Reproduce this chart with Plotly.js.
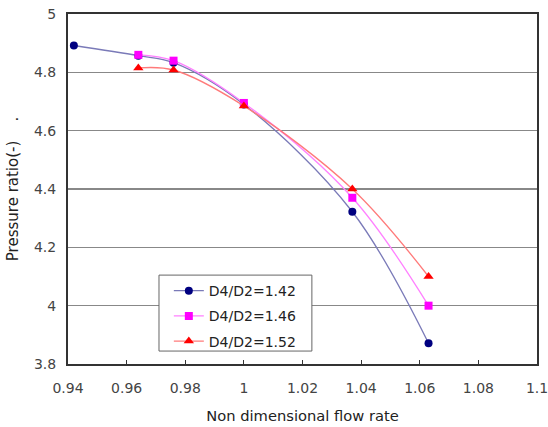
<!DOCTYPE html>
<html>
<head>
<meta charset="utf-8">
<script src="https://cdn.plot.ly/plotly-3.0.1.min.js"></script>
<style>html,body{margin:0;padding:0;background:#fff;}#chart{width:548px;height:427px;}</style>
</head>
<body>
<div id="chart"></div>
<script>
var flow142 = [0.942, 0.964, 0.976, 1.000, 1.037, 1.063];
var ratio142 = [4.892, 4.857, 4.833, 4.690, 4.322, 3.871];
var flow146 = [0.964, 0.976, 1.000, 1.037, 1.063];
var ratio146 = [4.860, 4.840, 4.695, 4.370, 4.000];
var flow152 = [0.964, 0.976, 1.000, 1.037, 1.063];
var ratio152 = [4.815, 4.808, 4.685, 4.400, 4.100];
var seriesNames = ['D4/D2=1.42', 'D4/D2=1.46', 'D4/D2=1.52'];
var xTicks = [0.94, 0.96, 0.98, 1.0, 1.02, 1.04, 1.06, 1.08, 1.1];
var xTickText = ['0.94', '0.96', '0.98', '1', '1.02', '1.04', '1.06', '1.08', '1.1'];
var yTicks = [3.8, 4.0, 4.2, 4.4, 4.6, 4.8, 5.0];
var yTickText = ['3.8', '4', '4.2', '4.4', '4.6', '4.8', '5'];

var font = 'DejaVu Sans, Arial, sans-serif';
var traces = [
  {x: flow142, y: ratio142, name: seriesNames[0], mode: 'lines+markers', legendgroup: 'a',
   line: {shape: 'spline', smoothing: 1, color: '#7a7ab8', width: 1.3},
   marker: {symbol: 'circle', size: 8, color: '#000080'}},
  {x: flow146, y: ratio146, name: seriesNames[1], mode: 'lines+markers', legendgroup: 'b',
   line: {shape: 'spline', smoothing: 1, color: '#ff80ff', width: 1.3},
   marker: {symbol: 'square', size: 8, color: '#ff00ff'}},
  {x: flow152, y: ratio152, name: seriesNames[2], mode: 'lines+markers', legendgroup: 'c',
   line: {shape: 'spline', smoothing: 1, color: '#ff7a7a', width: 1.3},
   marker: {symbol: 'triangle-up', size: 9, color: '#ff0000'}}
];
var layout = {
  width: 548, height: 427,
  margin: {l: 68, r: 11, t: 14, b: 63},
  paper_bgcolor: '#fff', plot_bgcolor: '#fff',
  font: {family: font, size: 14, color: '#333'},
  showlegend: true,
  legend: {x: 0.215, y: 0.254, xanchor: 'left', yanchor: 'top',
           bgcolor: 'rgba(0,0,0,0)', borderwidth: 0,
           font: {family: font, size: 14, color: '#222'}, itemwidth: 30,
           tracegroupgap: 4},
  shapes: [{type: 'rect', xref: 'paper', yref: 'paper', x0: 0.194, x1: 0.520, y0: 0.037, y1: 0.254,
            fillcolor: '#fff', line: {color: '#666', width: 1}, layer: 'above'}],
  xaxis: {range: [0.94, 1.1], tickvals: xTicks, ticktext: xTickText,
          showgrid: false, zeroline: false, ticks: 'inside', ticklen: 4,
          tickcolor: '#333', showline: true, linecolor: '#333', linewidth: 2,
          mirror: true, tickfont: {size: 14, color: '#444'}, ticklabelstandoff: 10,
          ticklabeloverflow: 'allow', automargin: false,
          title: {text: 'Non dimensional flow rate', standoff: 16, font: {size: 14.7, color: '#222'}}},
  yaxis: {range: [3.8, 5.0], tickvals: yTicks, ticktext: yTickText,
          showgrid: true, gridcolor: '#888', gridwidth: 1.5, zeroline: false,
          ticks: '', showline: true, linecolor: '#333', linewidth: 2, mirror: true,
          tickfont: {size: 14, color: '#444'}, ticklabelstandoff: 7,
          title: {text: 'Pressure ratio(-)\u00a0\u00a0\u00a0\u00a0.', standoff: 12, font: {size: 15, color: '#222'}}}
};
Plotly.newPlot('chart', traces, layout, {displayModeBar: false, staticPlot: true});
</script>
</body>
</html>
